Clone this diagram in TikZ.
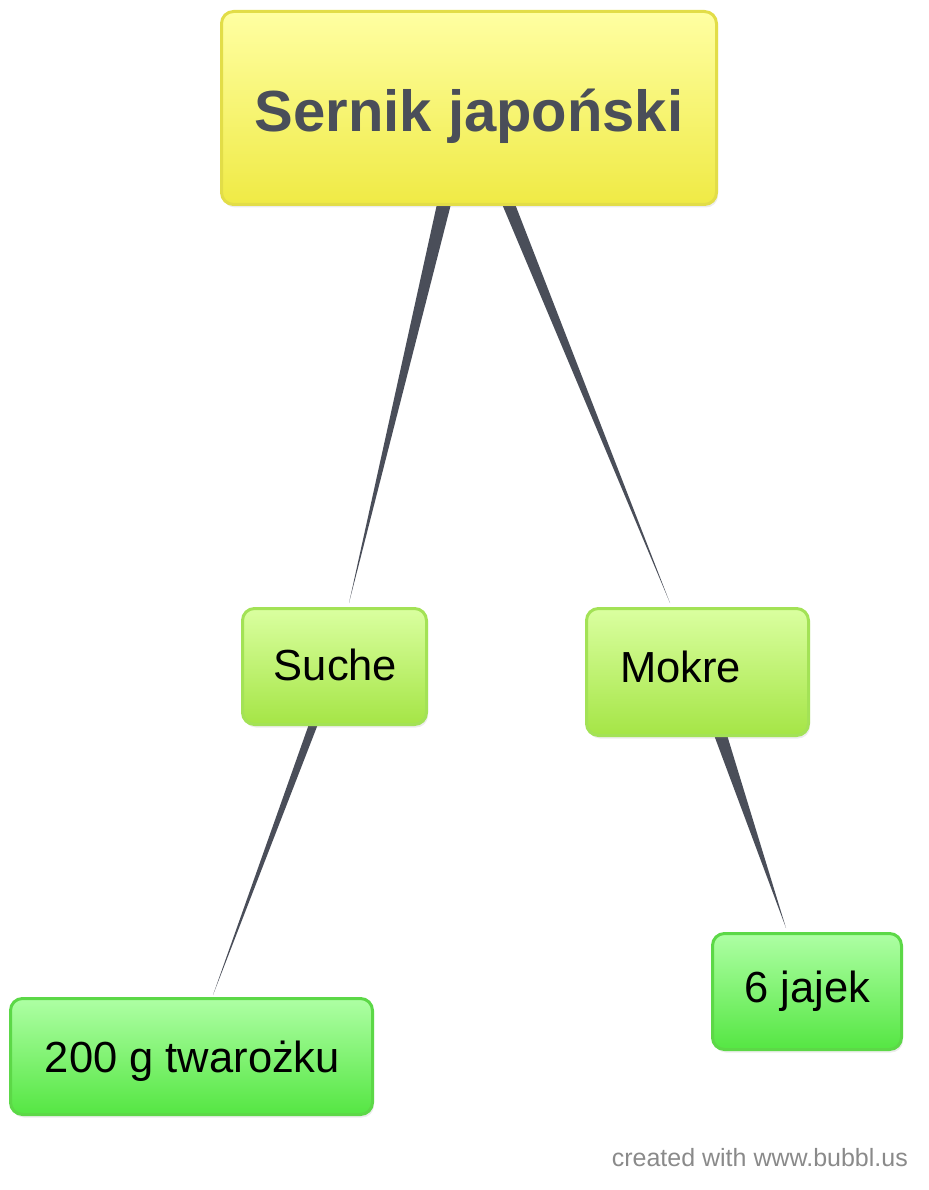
\documentclass[tikz,border=0pt]{standalone}
\usepackage{fontspec}
\setmainfont{Liberation Sans}
\usetikzlibrary{calc,shadows}
\pgfdeclarelayer{bg}
\pgfsetlayers{bg,main}
\definecolor{wedgec}{HTML}{4A4E59}
\definecolor{titletxt}{HTML}{4A4E59}
\definecolor{ytop}{HTML}{FFFFA2}
\definecolor{ybot}{HTML}{EFEA45}
\definecolor{yline}{HTML}{E2DD48}
\definecolor{lgtop}{HTML}{DAFFA0}
\definecolor{lgbot}{HTML}{A5E546}
\definecolor{lgline}{HTML}{A3E256}
\definecolor{gtop}{HTML}{AEFFA4}
\definecolor{gbot}{HTML}{55E643}
\definecolor{gline}{HTML}{5CD847}
\definecolor{foot}{HTML}{8A8A8A}
\begin{document}
\begin{tikzpicture}[x=1pt,y=-1pt,
  box/.style={draw, line width=3pt, rounded corners=12pt, inner sep=0pt,
    drop shadow={opacity=0.15, shadow xshift=1.5pt, shadow yshift=-3pt}},
  ybox/.style={box, draw=yline, top color=ytop, bottom color=ybot},
  lgbox/.style={box, draw=lgline, top color=lgtop, bottom color=lgbot},
  gbox/.style={box, draw=gline, top color=gtop, bottom color=gbot},
  titlefont/.style={font=\fontsize{58}{60}\selectfont\bfseries, text=titletxt, inner sep=0pt},
  leaffont/.style={font=\fontsize{43.5}{46}\selectfont, text=black, inner sep=0pt},
  wedge/.style={fill=wedgec}]
\useasboundingbox (0,0) rectangle (928,1190);

\node[ybox, minimum width=495pt, minimum height=193pt] (title) at (469,108) {};
\node[lgbox, minimum width=184pt, minimum height=116pt] (suche) at (334.5,666.5) {};
\node[lgbox, minimum width=222pt, minimum height=127pt] (mokre) at (697.5,672) {};
\node[gbox, minimum width=362pt, minimum height=116pt] (tw) at (191.5,1056.5) {};
\node[gbox, minimum width=189pt, minimum height=116pt] (jaj) at (807,991.5) {};

\node[titlefont, anchor=base] (titletext) at (469,132) {Sernik japoński};
\node[leaffont, anchor=base] (suchetext) at (335.5,680) {Suche};
\node[leaffont, anchor=base west] (mokretext) at (620,682) {Mokre};
\node[leaffont, anchor=base] (twtext) at (192.5,1072) {200 g twarożku};
\node[leaffont, anchor=base] (jajtext) at (807.5,1002) {6 jajek};
\node[font=\fontsize{25}{27}\selectfont, text=foot, inner sep=0pt, anchor=base east] (footer) at (908,1166) {created with www.bubbl.us};

\begin{pgfonlayer}{bg}
\fill[wedge] ($(title.south)+(-32,-2)$) -- ($(title.south)+(-18,-2)$) -- ($(suche.north)+(14.5,-4)$) -- cycle;
\fill[wedge] ($(title.south)+(33,-2)$) -- ($(title.south)+(46,-2)$) -- ($(mokre.north)+(-27.5,-4)$) -- cycle;
\fill[wedge] ($(suche.south)+(-25.5,-2)$) -- ($(suche.south)+(-16.5,-2)$) -- ($(tw.north)+(21.5,-2)$) -- cycle;
\fill[wedge] ($(mokre.south)+(16.5,-2)$) -- ($(mokre.south)+(29.5,-2)$) -- ($(jaj.north)+(-21,-4)$) -- cycle;
\end{pgfonlayer}
\end{tikzpicture}
\end{document}
